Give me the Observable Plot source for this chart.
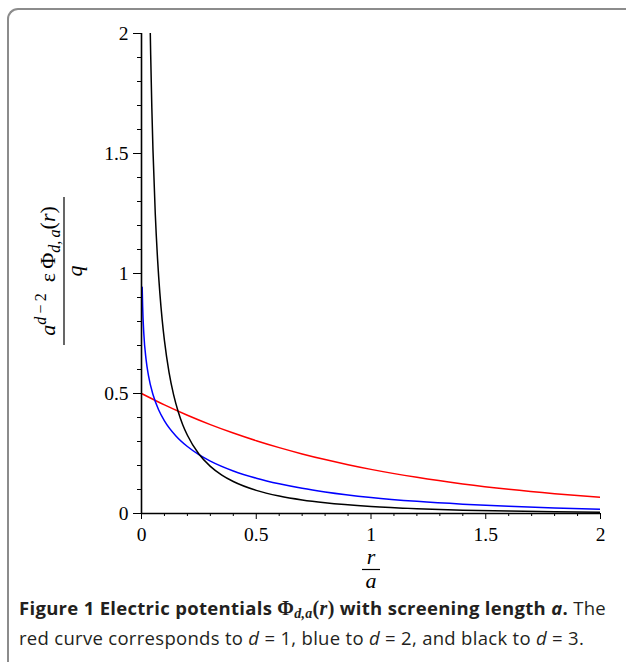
<!DOCTYPE html>
<html>
<head>
<meta charset="utf-8">
<script src="https://cdn.jsdelivr.net/npm/d3@7"></script>
<script src="https://cdn.jsdelivr.net/npm/@observablehq/plot@0.6"></script>
<style>
  html, body { margin: 0; padding: 0; background: #fff; width: 626px; height: 662px; overflow: hidden; }
  #frame { position: absolute; left: 7px; top: 8px; width: 800px; height: 800px;
           border-left: 2px solid #8c8c8c; border-top: 2px solid #8c8c8c; border-top-left-radius: 11px; box-sizing: border-box; }
  #chart { position: absolute; left: 0; top: 0; }
  #caption { position: absolute; left: 19px; top: 596px; font-family: "Open Sans", sans-serif; font-size: 18.5px;
             line-height: 23.5px; color: #231f20; white-space: nowrap; letter-spacing: 0.3px; }
  #caption b { font-weight: 700; }
  .m { font-family: "Liberation Serif", serif; }
</style>
</head>
<body>
<div id="frame"></div>
<div id="chart"></div>
<div id="caption">
  <b>Figure 1 Electric potentials <span class="m" style="font-size:20px">Φ<sub style="font-size:14px;font-style:italic;vertical-align:-3px">d,a</sub>(<i>r</i>)</span> with screening length <i>a</i>.</b> The<br>
  red curve corresponds to <i>d</i> = 1, blue to <i>d</i> = 2, and black to <i>d</i> = 3.
</div>
<script>
// d = 1 (red)
const rRed = [0, 0.1, 0.2, 0.3, 0.4, 0.5, 0.6, 0.7, 0.8, 0.9, 1.0, 1.2, 1.4, 1.6, 1.8, 2.0];
const phiRed = [0.5, 0.4524, 0.4094, 0.3704, 0.3352, 0.3033, 0.2744, 0.2483, 0.2247, 0.2033, 0.1839, 0.1506, 0.1233, 0.1009, 0.0826, 0.0677];
// d = 2 (blue)
const rBlue = [0.003, 0.005, 0.01, 0.02, 0.03, 0.05, 0.075, 0.1, 0.15, 0.2, 0.25, 0.3, 0.4, 0.5, 0.6, 0.7, 0.8, 1.0, 1.2, 1.4, 1.6, 1.8, 2.0];
const phiBlue = [0.943, 0.862, 0.751, 0.641, 0.577, 0.4956, 0.4315, 0.3863, 0.3231, 0.2790, 0.2453, 0.2184, 0.1774, 0.1471, 0.1237, 0.1051, 0.0900, 0.0670, 0.0507, 0.0388, 0.0299, 0.0232, 0.0181];
// d = 3 (black)
const rBlack = [0.038, 0.04, 0.045, 0.05, 0.06, 0.07, 0.08, 0.09, 0.1, 0.12, 0.14, 0.16, 0.18, 0.2, 0.25, 0.3, 0.35, 0.4, 0.5, 0.6, 0.7, 0.8, 1.0, 1.2, 1.4, 1.6, 1.8, 2.0];
const phiBlack = [2.016, 1.911, 1.691, 1.514, 1.249, 1.060, 0.918, 0.808, 0.720, 0.588, 0.494, 0.424, 0.369, 0.326, 0.248, 0.1965, 0.1602, 0.1334, 0.0965, 0.0728, 0.0565, 0.0447, 0.0293, 0.0200, 0.0140, 0.0100, 0.0073, 0.0054];

const xMajor = [0, 0.5, 1, 1.5, 2];
const yMajor = [0, 0.5, 1, 1.5, 2];
const xTickLabels = ["0", "0.5", "1", "1.5", "2"];
const yTickLabels = ["0", "0.5", "1", "1.5", "2"];
const minorTicks = [0.1, 0.2, 0.3, 0.4, 0.6, 0.7, 0.8, 0.9, 1.1, 1.2, 1.3, 1.4, 1.6, 1.7, 1.8, 1.9];

const toRows = (xs, ys) => xs.map((x, i) => ({x, y: ys[i]}));
const red = toRows(rRed, phiRed);
const blue = toRows(rBlue, phiBlue);
const black = toRows(rBlack, phiBlack);

const serif = "Liberation Serif";
const plot = Plot.plot({
  width: 626,
  height: 600,
  marginLeft: 141,
  marginRight: 26,
  marginTop: 33,
  marginBottom: 87,
  style: { fontFamily: serif, background: "transparent", color: "#000" },
  x: { domain: [0, 2] },
  y: { domain: [0, 2] },
  marks: [
    Plot.axisY({ ticks: yMajor, tickSize: 8, tickPadding: 5, fontSize: 19.5, label: null, stroke: "#000", strokeOpacity: 1, fill: "#000",
                 tickFormat: (d) => yTickLabels[yMajor.indexOf(d)], strokeWidth: 1 }),
    Plot.axisY({ ticks: minorTicks, tickSize: 4, label: null, tickFormat: () => "", stroke: "#000", strokeOpacity: 1, strokeWidth: 1 }),
    Plot.axisX({ ticks: xMajor, tickSize: 6, tickPadding: 8, fontSize: 19.5, label: null, stroke: "#000", strokeOpacity: 1, fill: "#000",
                 tickFormat: (d) => xTickLabels[xMajor.indexOf(d)], strokeWidth: 1 }),
    Plot.axisX({ ticks: minorTicks, tickSize: 3, label: null, tickFormat: () => "", stroke: "#000", strokeOpacity: 1, strokeWidth: 1 }),
    Plot.line(red, { x: "x", y: "y", stroke: "#ff0000", strokeWidth: 1.5, curve: "monotone-x", clip: true }),
    Plot.line(blue, { x: "x", y: "y", stroke: "#0000ff", strokeWidth: 1.5, curve: "monotone-x", clip: true }),
    Plot.line(black, { x: "x", y: "y", stroke: "#000000", strokeWidth: 1.5, curve: "monotone-x", clip: true }),
    Plot.ruleX([0], { stroke: "#000", strokeWidth: 1.6 }),
    Plot.ruleY([0], { stroke: "#000", strokeWidth: 1.6 })
  ]
});
document.getElementById("chart").appendChild(plot);

const svg = d3.select(plot);
// x-axis label: r / a
const xl = svg.append("g").attr("font-family", serif).attr("font-size", 22).attr("font-style", "italic").attr("text-anchor", "middle");
xl.append("text").attr("x", 371).attr("y", 564).text("r");
xl.append("line").attr("x1", 362).attr("x2", 380).attr("y1", 569.5).attr("y2", 569.5).attr("stroke", "#000").attr("stroke-width", 1.2);
xl.append("text").attr("x", 371).attr("y", 588).text("a");

// y-axis label: a^{d-2} ε Φ_{d,a}(r) / q
const yl = svg.append("g").attr("transform", "translate(64,271) rotate(-90)")
  .attr("font-family", serif).attr("font-size", 22);
const num = yl.append("text").attr("text-anchor", "middle").attr("y", -9);
num.append("tspan").attr("font-style", "italic").text("a");
num.append("tspan").attr("font-size", 16).attr("dy", -9).attr("font-style", "italic").text("d");
num.append("tspan").attr("font-size", 16).text("\u2009\u2212\u20092");
num.append("tspan").attr("dy", 9).text("\u2002ε\u2009Φ");
num.append("tspan").attr("font-size", 16).attr("dy", 5).attr("font-style", "italic").text("d,\u2009a");
num.append("tspan").attr("dy", -5).text("(");
num.append("tspan").attr("font-style", "italic").text("r");
num.append("tspan").text(")");
yl.append("line").attr("x1", -74).attr("x2", 74).attr("y1", 0).attr("y2", 0).attr("stroke", "#000").attr("stroke-width", 1.2);
yl.append("text").attr("text-anchor", "middle").attr("y", 18).attr("font-style", "italic").text("q");
</script>
</body>
</html>
